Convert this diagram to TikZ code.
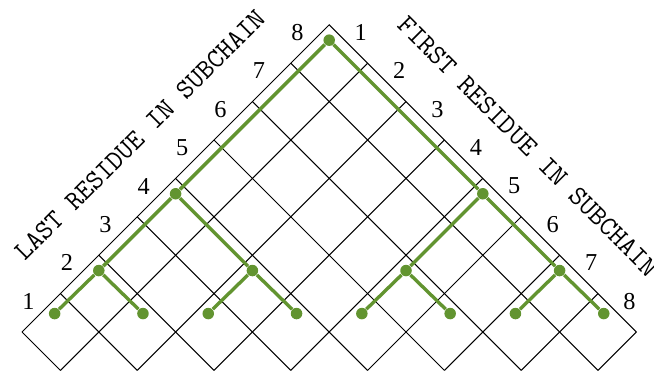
\documentclass[tikz,border=0pt]{standalone}
\usepackage{fontspec}
\setmainfont{Liberation Serif}
\usepackage{tikz}
\definecolor{astgruen}{RGB}{98,148,48}

\begin{document}
\begin{tikzpicture}[dot/.style={circle, fill=astgruen, inner sep=0pt, minimum size=0.3cm},
				ast/.style={draw=astgruen, line width=2.5pt},
				num/.style={font=\fontsize{18}{18}\selectfont},
				achse/.style={font=\fontsize{20.5}{20.5}\ttfamily},
				x=1cm, y=1cm, line width=0.75pt]
				%Bildbereich
				\useasboundingbox (-0.573,-1.016) rectangle (16.458,8.646);
				%Gitter zeichnen
				\draw (0,0) -- (8,8) -- (16,0);
				\foreach \k in {1,...,8} \draw (2*\k-1,-1) -- (8+\k,8-\k);
				\foreach \k in {1,...,8} \draw (2*\k-1,-1) -- (\k-1,\k-1);
				% Achsen beschriften
				\foreach \j in {1,...,8} \node[num] (l\j) at (\j-0.83,\j-0.2) {\j};
				\foreach \i in {1,...,8} \node[num] (r\i) at (\i+7.82,8.8-\i) {\i};
				\node[achse, rotate=45] (last) at (3.07,5.13) {LAST RESIDUE IN SUBCHAIN};
				\node[achse, rotate=-45] (first) at (13.18,4.84) {FIRST RESIDUE IN SUBCHAIN};
				%Knoten des Baums
				\foreach \i/\j in {1/2,3/4,5/6,7/8,1/4,5/8,1/8} \node[dot] (n\i\j) at (\i+\j-1,\j-\i+0.6) {};
				\foreach \i/\dx in {1/-0.15,2/0.15,3/-0.15,4/0.15,5/-0.15,6/0.15,7/-0.15,8/0.15}
					\node[dot] (n\i\i) at (2*\i-1+\dx,0.48) {};
				%Aeste zeichnen
				\draw[ast] (n14) -- (n18) -- (n58);
				\draw[ast] (n12) -- (n14) -- (n34);
				\draw[ast] (n56) -- (n58) -- (n78);
				\foreach \a/\b/\c in {12/11/22,34/33/44,56/55/66,78/77/88}
					\draw[ast] (n\b) -- (n\a) -- (n\c);
			\end{tikzpicture}
\end{document}
